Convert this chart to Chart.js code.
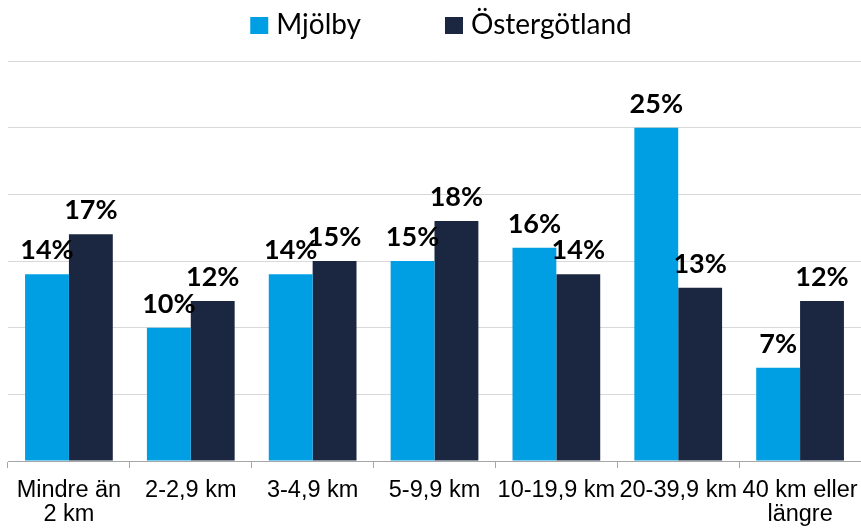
<!DOCTYPE html>
<html>
<head>
<meta charset="utf-8">
<script src="https://cdn.jsdelivr.net/npm/chart.js@4"></script>
<style>
  html, body { margin: 0; padding: 0; background: #fff; }
  #wrap { width: 861px; height: 529px; }
</style>
</head>
<body>
<div id="wrap"><canvas id="chartCanvas"></canvas></div>
<script>
// data
const categories = [["Mindre än", "2 km"], "2-2,9 km", "3-4,9 km", "5-9,9 km", "10-19,9 km", "20-39,9 km", ["40 km eller", "längre"]];
const mjolby = [14, 10, 14, 15, 16, 25, 7];
const ostergotland = [17, 12, 15, 18, 14, 13, 12];

// percent labels above the bars
const valueLabels = {
    id: "valueLabels",
    afterDatasetsDraw(chart) {
        const ctx = chart.ctx;
        ctx.save();
        ctx.font = "bold 27px Lato";
        ctx.fillStyle = "#000";
        ctx.textAlign = "center";
        ctx.textBaseline = "alphabetic";
        chart.data.datasets.forEach((ds, i) => {
            chart.getDatasetMeta(i).data.forEach((bar, j) => {
                ctx.fillText(ds.data[j] + "%", bar.x, bar.y - 15);
            });
        });
        ctx.restore();
    }
};

// legend drawn by hand, the built-in one can't space items this wide
const topLegend = {
    id: "topLegend",
    afterDraw(chart) {
        const ctx = chart.ctx;
        ctx.save();
        ctx.font = "28px Lato";
        ctx.textBaseline = "middle";
        ctx.textAlign = "left";
        const items = chart.data.datasets.map(ds => ({
            text: ds.label,
            color: ds.backgroundColor,
            w: ctx.measureText(ds.label).width
        }));
        const gap = 84;
        const total = items.reduce((s, it) => s + 18 + 8 + it.w, 0) + gap * (items.length - 1);
        let x = 441 - total / 2;
        items.forEach(it => {
            ctx.fillStyle = it.color;
            ctx.fillRect(x, 17, 18, 17);
            ctx.fillStyle = "#000";
            ctx.fillText(it.text, x + 26, 25);
            x += 26 + it.w + gap;
        });
        ctx.restore();
    }
};

new Chart(document.getElementById("chartCanvas"), {
    type: "bar",
    data: {
        labels: categories,
        datasets: [
            { label: "Mjölby", data: mjolby, backgroundColor: "#009FE3" },
            { label: "Östergötland", data: ostergotland, backgroundColor: "#1B2641" }
        ]
    },
    options: {
        responsive: true,
        maintainAspectRatio: false,
        animation: false,
        layout: { padding: { left: 8, right: 0, top: 61, bottom: -8 } },
        datasets: { bar: { categoryPercentage: 0.72, barPercentage: 1 } },
        plugins: {
            legend: { display: false },
            tooltip: { enabled: false }
        },
        scales: {
            x: {
                // let the last label hang over the edge like in the original
                afterFit(scale) {
                    scale.paddingLeft = 0;
                    scale.paddingRight = 0;
                },
                grid: { drawOnChartArea: false, tickLength: 7, color: "#a6a6a6" },
                border: { color: "#a6a6a6" },
                ticks: {
                    color: "#000",
                    maxRotation: 0,
                    autoSkip: false,
                    padding: 11,
                    font: { family: "Liberation Sans", size: 23.5, lineHeight: 1 }
                }
            },
            y: {
                min: 0,
                max: 30,
                ticks: { display: false, stepSize: 5 },
                grid: { color: "#d9d9d9", drawTicks: false },
                border: { display: false }
            }
        }
    },
    plugins: [valueLabels, topLegend]
});
</script>
</body>
</html>
